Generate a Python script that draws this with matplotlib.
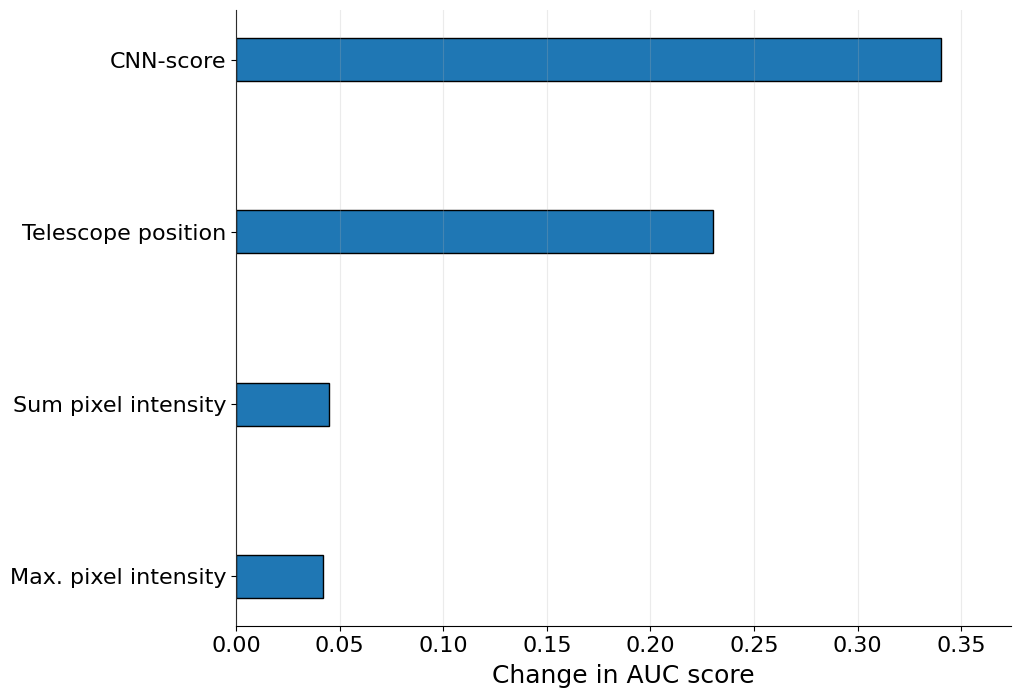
import numpy as np
import matplotlib
matplotlib.use("Agg")
import matplotlib.pyplot as plt

features = ["Max. pixel intensity", "Sum pixel intensity", "Telescope position", "CNN-score"]
auc_change = [0.042, 0.045, 0.230, 0.340]

fig = plt.figure(figsize=(10.2, 6.98), dpi=100)
ax = fig.add_axes([236/1020, 1 - 626/698, (1011 - 236)/1020, (626 - 10)/698])

pos = np.arange(len(features))
ax.barh(pos, auc_change, height=0.25, color="#1f77b4", edgecolor="black", linewidth=1.0)
ax.set_yticks(pos)
ax.set_yticklabels(features, fontsize=16)
ax.tick_params(axis="x", labelsize=16)
ax.set_xlim(0, 0.374)
ax.set_xlabel("Change in AUC score", fontsize=18, labelpad=6)
ax.grid(axis="x", alpha=0.25)
ax.set_axisbelow(False)
ax.spines["top"].set_visible(False)
ax.spines["right"].set_visible(False)

plt.savefig("out.png", dpi=100)
